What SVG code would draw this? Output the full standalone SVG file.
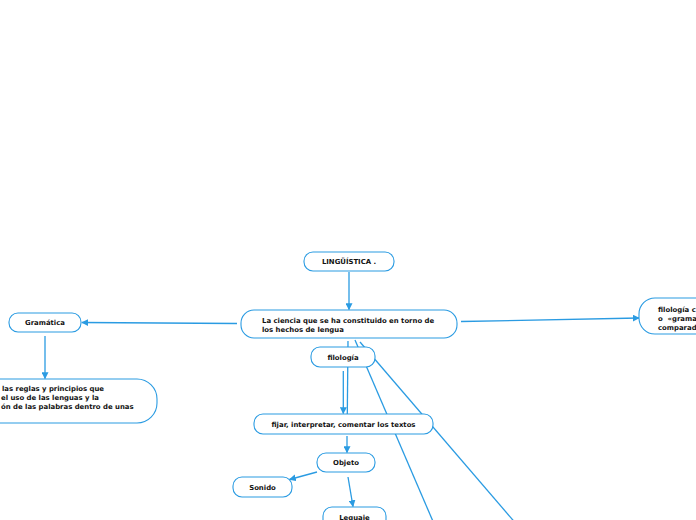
<svg xmlns="http://www.w3.org/2000/svg" width="696" height="520" viewBox="0 0 696 520">
<style>
.n{fill:#fff;stroke:#2a9be2;stroke-width:1.1}
.t{font-family:"DejaVu Sans",Verdana,sans-serif;font-weight:bold;font-size:6.9px;fill:#111}
.c{text-anchor:middle}
.l{stroke:#2a9be2;stroke-width:1.3;fill:none}
</style>
<defs>
<marker id="a" viewBox="0 0 10 10" refX="9" refY="5" markerWidth="7" markerHeight="7" markerUnits="userSpaceOnUse" orient="auto"><path d="M0,0L10,5L0,10z" fill="#2a9be2"/></marker>
</defs>
<rect width="696" height="520" fill="#fff"/>
<g id="connectors">
<line class="l" x1="349" y1="272" x2="349" y2="309.5" marker-end="url(#a)"/>
<line class="l" x1="237" y1="323.5" x2="82" y2="322.5" marker-end="url(#a)"/>
<line class="l" x1="461" y1="321.5" x2="639" y2="318" marker-end="url(#a)"/>
<line class="l" x1="45" y1="336" x2="45" y2="378.5" marker-end="url(#a)"/>
<line class="l" x1="348" y1="341" x2="347.3" y2="414"/>
<line class="l" x1="343.3" y1="371" x2="343.3" y2="413.5" marker-end="url(#a)"/>
<line class="l" x1="355" y1="340" x2="441" y2="540"/>
<line class="l" x1="360" y1="342" x2="530" y2="540"/>
<line class="l" x1="347" y1="436" x2="347" y2="452.5" marker-end="url(#a)"/>
<line class="l" x1="317" y1="472" x2="289.5" y2="479.5" marker-end="url(#a)"/>
<line class="l" x1="348" y1="477" x2="353" y2="506.5" marker-end="url(#a)"/>
</g>
<g id="linguistica"><rect class="n" x="304" y="252" width="90" height="19" rx="9"/><text class="t c" x="349" y="264">LINGÜÍSTICA .</text></g>
<g id="ciencia"><rect class="n" x="241" y="310" width="216" height="28" rx="13"/><text class="t" x="262" y="322.5">La ciencia que se ha constituido en torno de</text><text class="t" x="262" y="331.5">los hechos de lengua</text></g>
<g id="gramatica"><rect class="n" x="9" y="313" width="72" height="19" rx="9"/><text class="t c" x="45" y="325">Gramática</text></g>
<g id="gramatica-def"><rect class="n" x="-60" y="379" width="217" height="44" rx="20"/><text class="t" x="2" y="390.5">las reglas y principios que</text><text class="t" x="1" y="399.5">el uso de las lenguas y la</text><text class="t" x="1" y="408.5">ón de las palabras dentro de unas</text></g>
<g id="filologia-comparada"><rect class="n" x="639" y="298" width="120" height="36" rx="16"/><text class="t" x="658" y="311.5">filología c</text><text class="t" x="658" y="320.5">o &#160;«grama</text><text class="t" x="658" y="329.5">comparad</text></g>
<g id="filologia"><rect class="n" x="311" y="347" width="64" height="20" rx="9"/><text class="t c" x="343" y="360">filología</text></g>
<g id="fijar"><rect class="n" x="254" y="414" width="179" height="20" rx="9"/><text class="t c" x="343.5" y="426.5">fijar, interpretar, comentar los textos</text></g>
<g id="objeto"><rect class="n" x="317" y="453" width="58" height="19" rx="9"/><text class="t c" x="346" y="465">Objeto</text></g>
<g id="sonido"><rect class="n" x="233" y="477" width="59" height="20" rx="9"/><text class="t c" x="262.5" y="489.5">Sonido</text></g>
<g id="lenguaje"><rect class="n" x="323" y="507" width="63" height="24" rx="9"/><text class="t c" x="354.5" y="520">Leguaje</text></g>
</svg>
